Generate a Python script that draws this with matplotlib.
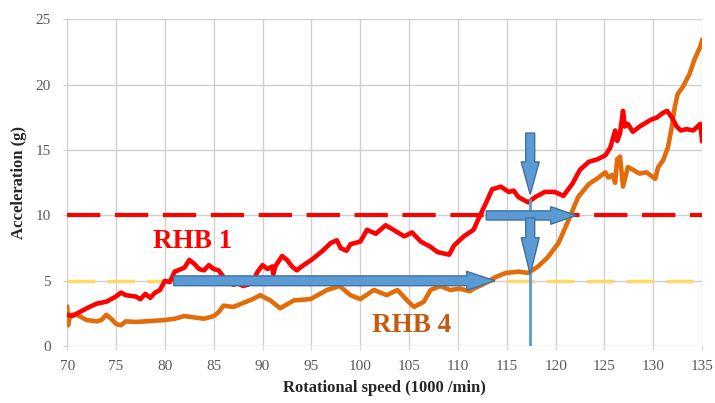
import numpy as np
import matplotlib.pyplot as plt
from matplotlib.patches import FancyArrow

# RHB 1 (red)
rhb1_x = [70, 70.5, 71, 72, 73, 74, 75, 75.5, 76, 77, 77.5, 78, 78.5, 79, 79.5, 80, 80.5, 81, 82, 82.5,
          83, 83.5, 84, 84.5, 85, 85.5, 86, 87, 87.5, 88, 88.5, 89, 89.5, 90, 90.5, 91, 91.1, 91.3, 92, 92.5,
          93, 93.5, 94, 95, 96, 97, 97.6, 98, 98.6, 99, 100, 100.7, 101.6, 102.6, 103.4, 104.5, 105.3, 106.2,
          107.2, 107.9, 109.1, 109.6, 110.6, 111.6, 112.2, 112.9, 113.5, 114.4, 115.2, 115.7, 116.2, 117.2,
          117.9, 118.9, 119.9, 120.8, 121.7, 122.5, 123.4, 124.3, 125.1, 125.6, 126.1, 126.3, 126.6, 126.9,
          127.1, 127.4, 127.9, 128.6, 129.7, 130.4, 130.9, 131.4, 131.9, 132.4, 132.8, 133.4, 134.1, 134.8, 135]
rhb1_y = [2.4, 2.3, 2.5, 2.9, 3.25, 3.4, 3.8, 4.1, 3.9, 3.8, 3.6, 4.0, 3.7, 4.1, 4.3, 5.0, 4.9, 5.7, 6.0, 6.6,
          6.3, 5.9, 5.8, 6.2, 5.9, 5.8, 5.3, 4.7, 4.8, 4.6, 4.7, 5.0, 5.7, 6.2, 5.9, 6.1, 5.5, 6.1, 6.9, 6.6,
          6.1, 5.8, 6.1, 6.6, 7.2, 7.9, 8.1, 7.5, 7.3, 7.8, 8.0, 8.9, 8.6, 9.25, 8.9, 8.4, 8.7, 8.0,
          7.6, 7.2, 7.0, 7.7, 8.4, 8.9, 9.9, 11.0, 12.0, 12.2, 11.8, 11.9, 11.4, 11.0,
          11.4, 11.8, 11.8, 11.5, 12.4, 13.5, 14.1, 14.3, 14.6, 15.2, 16.5, 15.7, 16.3, 18.0,
          16.8, 17.0, 16.4, 16.8, 17.3, 17.5, 17.8, 18.0, 17.5, 16.8, 16.5, 16.6, 16.5, 17.0, 15.7]

# RHB 4 (orange)
rhb4_x = [70, 70.1, 70.3, 71, 72, 73, 73.5, 74, 74.5, 75, 75.5, 76, 77, 78, 79, 80, 81, 82, 83, 84, 85, 85.5,
          86, 87, 88, 89, 89.75, 90.8, 91.8, 93.2, 94.9, 96.6, 97.9, 99.0, 100.0, 101.4, 102.7, 103.8, 104.8,
          105.5, 106.5, 107.2, 108.2, 109.2, 110.2, 111.2, 111.6, 112.5, 113.9, 114.9, 116.2, 117.2, 118.2,
          119.2, 120.3, 121.3, 122.3, 123.4, 124.4, 125.1, 125.4, 125.8, 126.1, 126.3, 126.6, 126.9, 127.4,
          127.9, 128.6, 129.3, 130.2, 130.5, 131.0, 131.5, 131.9, 132.2, 132.5, 133.0, 133.7, 134.2, 134.8, 135]
rhb4_y = [3.0, 1.6, 2.4, 2.4, 2.0, 1.9, 2.0, 2.4, 2.1, 1.7, 1.6, 1.9, 1.85, 1.9, 1.95, 2.0, 2.1, 2.3, 2.2, 2.1, 2.3, 2.6,
          3.1, 3.0, 3.3, 3.6, 3.9, 3.5, 2.9, 3.5, 3.6, 4.3, 4.6, 3.9, 3.6, 4.3, 3.9, 4.3, 3.5,
          3.0, 3.4, 4.3, 4.6, 4.3, 4.4, 4.2, 4.4, 4.7, 5.3, 5.6, 5.7, 5.6, 6.1,
          6.8, 7.9, 9.6, 11.4, 12.4, 12.9, 13.3, 12.9, 13.1, 12.5, 14.3, 14.5, 12.2, 13.7,
          13.5, 13.2, 13.3, 12.8, 13.7, 14.2, 15.2, 16.8, 18.3, 19.3, 19.8, 20.8, 21.9, 22.9, 23.4]

limit1 = 10
limit4 = 5
x_ticks = np.arange(70, 136, 5)
y_ticks = np.arange(0, 26, 5)

serif = ['Liberation Serif', 'DejaVu Serif']

fig = plt.figure(figsize=(7.15, 4.03), dpi=100)
ax = fig.add_axes([0.094, 0.141, 0.888, 0.811])

ax.set_xlim(70, 135)
ax.set_ylim(0, 25)
ax.set_xticks(x_ticks)
ax.set_yticks(y_ticks)
ax.grid(True, color='#d0d0d0', lw=1)
ax.set_axisbelow(True)
for s in ax.spines.values():
    s.set_visible(False)
ax.tick_params(length=3, color='#d0d0d0', labelcolor='#595959', labelsize=11)
ax.tick_params(axis='x', pad=7)
ax.tick_params(axis='y', pad=9)
for lab in ax.get_xticklabels() + ax.get_yticklabels():
    lab.set_family(serif)

ax.plot([70, 135], [limit1, limit1], color='#ff0000', lw=3, dashes=(8, 3.5), zorder=2)
ax.plot([70, 135], [limit4, limit4], color='#ffd966', lw=2.5, dashes=(8, 3.5), zorder=2)

ax.plot(rhb4_x, rhb4_y, color='#e36c0a', lw=3.3, solid_joinstyle='round', zorder=3)
ax.plot(rhb1_x, rhb1_y, color='#ff0000', lw=3.3, solid_joinstyle='round', zorder=3)

# blue arrows
fc = '#5b9bd5'
ec = '#41719c'
ax.plot([117.4, 117.4], [0, 11.2], color=fc, lw=2, zorder=4)
ax.add_patch(FancyArrow(80.9, 5, 113.8 - 80.9, 0, width=0.75, head_width=1.45, head_length=2.9,
                        length_includes_head=True, fc=fc, ec=ec, lw=1, zorder=5))
ax.add_patch(FancyArrow(112.9, 10, 122.1 - 112.9, 0, width=0.7, head_width=1.35, head_length=2.6,
                        length_includes_head=True, fc=fc, ec=ec, lw=1, zorder=5))
ax.add_patch(FancyArrow(117.4, 16.3, 0, 11.6 - 16.3, width=0.92, head_width=1.85, head_length=2.5,
                        length_includes_head=True, fc=fc, ec=ec, lw=1, zorder=5))
ax.add_patch(FancyArrow(117.4, 9.8, 0, 5.5 - 9.8, width=0.92, head_width=1.85, head_length=2.8,
                        length_includes_head=True, fc=fc, ec=ec, lw=1, zorder=5))

ax.text(82.8, 8.0, 'RHB 1', color='#ff0000', fontsize=19.5, fontweight='bold', family=serif,
        ha='center', va='center')
ax.text(105.3, 1.57, 'RHB 4', color='#c55a11', fontsize=19.5, fontweight='bold', family=serif,
        ha='center', va='center')

ax.set_xlabel('Rotational speed (1000 /min)', fontsize=12, fontweight='bold', family=serif,
              color='#262626', labelpad=5)
ax.set_ylabel('Acceleration (g)', fontsize=12, fontweight='bold', family=serif,
              color='#262626', labelpad=6)

fig.savefig('out.png', dpi=100)
